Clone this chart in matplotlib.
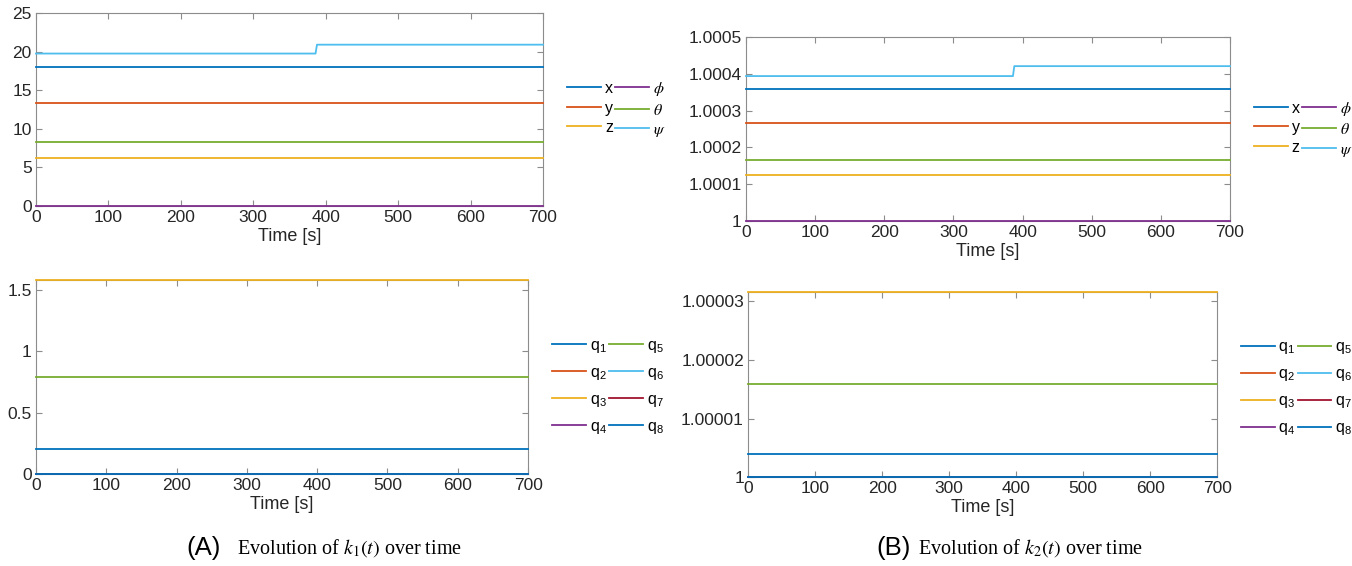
import numpy as np
import matplotlib
matplotlib.use("Agg")
import matplotlib.pyplot as plt

plt.rcParams['font.family'] = ['Liberation Sans', 'DejaVu Sans']
plt.rcParams['mathtext.fontset'] = 'stix'

# MATLAB default line colours
cols = ['#0072BD', '#D95319', '#EDB120', '#7E2F8E', '#77AC30', '#4DBEEE', '#A2142F']

# ---- data ----
t = np.array([0, 386, 388, 700])

k1_pose = {
    'x':      [17.95, 17.95, 17.95, 17.95],
    'y':      [13.35, 13.35, 13.35, 13.35],
    'z':      [6.25, 6.25, 6.25, 6.25],
    r'$\phi$':   [0.0, 0.0, 0.0, 0.0],
    r'$\theta$': [8.3, 8.3, 8.3, 8.3],
    r'$\psi$':   [19.75, 19.75, 20.9, 20.9],
}
k2_pose = {
    'x':      [1.000358, 1.000358, 1.000358, 1.000358],
    'y':      [1.000266, 1.000266, 1.000266, 1.000266],
    'z':      [1.000125, 1.000125, 1.000125, 1.000125],
    r'$\phi$':   [1.0, 1.0, 1.0, 1.0],
    r'$\theta$': [1.000165, 1.000165, 1.000165, 1.000165],
    r'$\psi$':   [1.000394, 1.000394, 1.000421, 1.000421],
}
k1_q = [0.2, 0.0, 1.58, 0.0, 0.79, 0.0, 0.0, 0.0]
k2_q = [1.0000040, 1.0, 1.0000316, 1.0, 1.0000159, 1.0, 1.0, 1.0]
q_names = [r'q$_\mathregular{%d}$' % (i + 1) for i in range(8)]

yt_tl = [0, 5, 10, 15, 20, 25]
yt_bl = [0, 0.5, 1, 1.5]
yt_tr = [1, 1.0001, 1.0002, 1.0003, 1.0004, 1.0005]
yl_tr = ['1', '1.0001', '1.0002', '1.0003', '1.0004', '1.0005']
yt_br = [1, 1.00001, 1.00002, 1.00003]
yl_br = ['1', '1.00001', '1.00002', '1.00003']
xt = [0, 100, 200, 300, 400, 500, 600, 700]

fig = plt.figure(figsize=(13.52, 5.66), dpi=100)

ax_tl = fig.add_axes([0.0266, 0.636, 0.375, 0.341])
ax_bl = fig.add_axes([0.0266, 0.1625, 0.364, 0.343])
ax_tr = fig.add_axes([0.5518, 0.6095, 0.358, 0.325])
ax_br = fig.add_axes([0.5533, 0.157, 0.347, 0.327])


def style(ax):
    for s in ax.spines.values():
        s.set_color('#8c8c8c')
        s.set_linewidth(0.8)
    ax.tick_params(direction='in', top=True, right=True, length=4,
                   color='#8c8c8c', labelsize=12.5, labelcolor='#262626', pad=3)
    ax.set_xlim(0, 700)
    ax.set_xticks(xt)
    ax.set_xlabel('Time [s]', fontsize=13, color='#262626', labelpad=2)


def legend(ax, y, spacing):
    ax.legend(ncol=2, frameon=False, fontsize=11.5, handlelength=2.1,
              columnspacing=0.15, handletextpad=0.25, labelspacing=spacing,
              loc='center left', bbox_to_anchor=(1.02, y))


# top-left: k1 pose
for i, (name, v) in enumerate(k1_pose.items()):
    ax_tl.plot(t, v, color=cols[i], lw=1.3, label=name, clip_on=False, zorder=3)
ax_tl.set_ylim(0, 25)
ax_tl.set_yticks(yt_tl)
style(ax_tl)
legend(ax_tl, 0.5, 0.28)

# top-right: k2 pose
for i, (name, v) in enumerate(k2_pose.items()):
    ax_tr.plot(t, v, color=cols[i], lw=1.3, label=name, clip_on=False, zorder=3)
ax_tr.set_ylim(1, 1.0005)
ax_tr.set_yticks(yt_tr)
ax_tr.set_yticklabels(yl_tr)
style(ax_tr)
legend(ax_tr, 0.5, 0.28)

# bottom-left: k1 joints
for i, v in enumerate(k1_q):
    ax_bl.plot([0, 700], [v, v], color=cols[i % 7], lw=1.3, label=q_names[i],
               clip_on=False, zorder=3)
ax_bl.set_ylim(0, 1.58)
ax_bl.set_yticks(yt_bl)
ax_bl.set_yticklabels(['0', '0.5', '1', '1.5'])
style(ax_bl)
legend(ax_bl, 0.45, 0.62)

# bottom-right: k2 joints
for i, v in enumerate(k2_q):
    ax_br.plot([0, 700], [v, v], color=cols[i % 7], lw=1.3, label=q_names[i],
               clip_on=False, zorder=3)
ax_br.set_ylim(1, 1.0000316)
ax_br.set_yticks(yt_br)
ax_br.set_yticklabels(yl_br)
style(ax_br)
legend(ax_br, 0.48, 0.62)

# captions
fig.text(0.138, 0.032, '(A)', fontsize=18.5, family='Liberation Sans', va='center')
fig.text(0.175, 0.032, r'Evolution of $k_1(t)$ over time', fontsize=14.5,
         family='Liberation Serif', va='center')
fig.text(0.648, 0.032, '(B)', fontsize=18.5, family='Liberation Sans', va='center')
fig.text(0.679, 0.032, r'Evolution of $k_2(t)$ over time', fontsize=14.5,
         family='Liberation Serif', va='center')

fig.savefig('out.png', dpi=100)
